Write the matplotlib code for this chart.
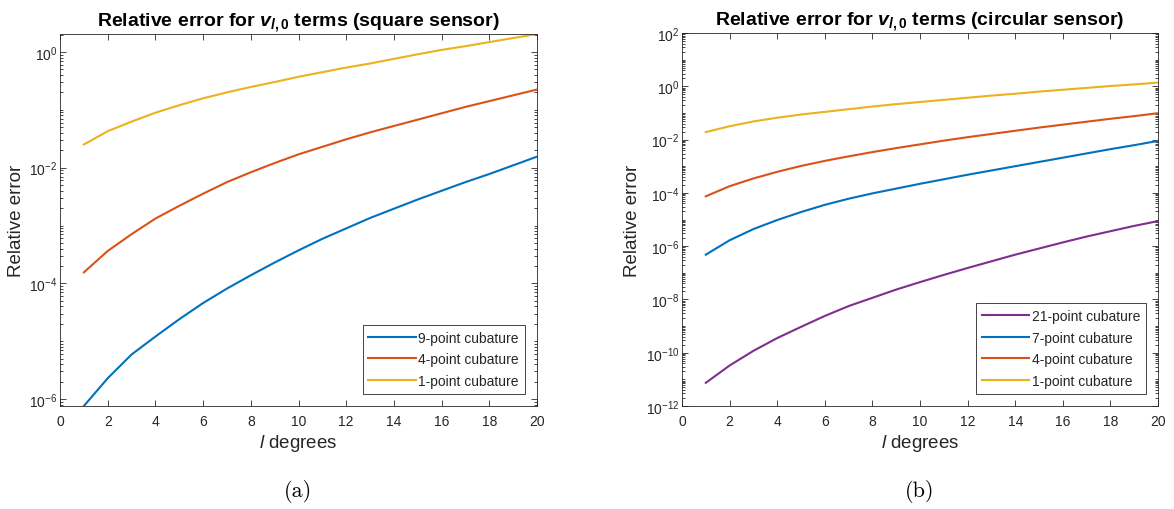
import numpy as np
import matplotlib
matplotlib.use("Agg")
import matplotlib.pyplot as plt
from matplotlib.ticker import LogLocator, FixedLocator, LogFormatterSciNotation, NullFormatter

plt.rcParams['font.family'] = ['Liberation Sans', 'DejaVu Sans']
plt.rcParams['mathtext.fontset'] = 'custom'
plt.rcParams['mathtext.it'] = 'Liberation Sans:italic:bold'
plt.rcParams['mathtext.rm'] = 'Liberation Sans:bold'
plt.rcParams['mathtext.sf'] = 'Liberation Sans:italic'
plt.rcParams['axes.unicode_minus'] = False

# ---------------- data ----------------
degrees = list(range(1, 21))

# (a) square sensor
sq_9pt = [7.59e-7, 2.29e-6, 5.89e-6, 1.202e-5, 2.399e-5, 4.571e-5, 8.128e-5, 1.380e-4,
          2.291e-4, 3.715e-4, 5.888e-4, 8.913e-4, 1.349e-3, 1.950e-3, 2.818e-3, 3.981e-3,
          5.623e-3, 7.762e-3, 1.096e-2, 1.549e-2]
sq_4pt = [1.549e-4, 3.63e-4, 7.08e-4, 1.318e-3, 2.188e-3, 3.548e-3, 5.623e-3, 8.318e-3,
          1.202e-2, 1.698e-2, 2.291e-2, 3.09e-2, 4.07e-2, 5.25e-2, 6.76e-2, 8.71e-2,
          0.1122, 0.1413, 0.1778, 0.2239]
sq_1pt = [0.0251, 0.0427, 0.0624, 0.0891, 0.120, 0.158, 0.200, 0.248, 0.302, 0.372,
          0.447, 0.537, 0.631, 0.759, 0.912, 1.084, 1.259, 1.479, 1.738, 2.042]
sq_labels = ['9-point cubature', '4-point cubature', '1-point cubature']

# (b) circular sensor
ci_21pt = [7.41e-12, 3.311e-11, 1.175e-10, 3.548e-10, 9.333e-10, 2.399e-9, 5.623e-9, 1.148e-8,
           2.344e-8, 4.467e-8, 8.318e-8, 1.514e-7, 2.692e-7, 4.786e-7, 8.128e-7, 1.380e-6,
           2.291e-6, 3.631e-6, 5.754e-6, 8.710e-6]
ci_7pt = [4.786e-7, 1.660e-6, 4.365e-6, 9.550e-6, 1.905e-5, 3.548e-5, 6.026e-5, 9.550e-5,
          1.445e-4, 2.188e-4, 3.236e-4, 4.786e-4, 6.918e-4, 1.0e-3, 1.445e-3, 2.089e-3,
          3.020e-3, 4.365e-3, 6.166e-3, 8.913e-3]
ci_4pt = [7.41e-5, 1.778e-4, 3.467e-4, 6.166e-4, 1.023e-3, 1.585e-3, 2.344e-3, 3.388e-3,
          4.786e-3, 6.607e-3, 9.120e-3, 1.230e-2, 1.622e-2, 2.138e-2, 2.818e-2, 3.631e-2,
          4.677e-2, 6.026e-2, 7.586e-2, 9.772e-2]
ci_1pt = [0.01905, 0.03162, 0.04786, 0.06607, 0.08710, 0.1096, 0.1380, 0.1738, 0.2138, 0.2570,
          0.3090, 0.3715, 0.4467, 0.5248, 0.6310, 0.7413, 0.8710, 1.0233, 1.1749, 1.3804]
ci_labels = ['21-point cubature', '7-point cubature', '4-point cubature', '1-point cubature']

x_ticks = list(range(0, 21, 2))

# ---------------- style ----------------
C_BLUE = '#0072BD'
C_ORANGE = '#D95319'
C_YELLOW = '#EDB120'
C_PURPLE = '#7E2F8E'
AX_COL = '#262626'

W, H = 1174, 510
fig = plt.figure(figsize=(W / 100, H / 100), dpi=100)

def px_axes(x0, x1, y0, y1):
    return fig.add_axes([x0 / W, 1 - y1 / H, (x1 - x0) / W, (y1 - y0) / H])

def style(ax, ymin, ymax, major_decades):
    ax.set_yscale('log')
    ax.set_xlim(0, 20)
    ax.set_ylim(ymin, ymax)
    ax.xaxis.set_major_locator(FixedLocator(x_ticks))
    ax.yaxis.set_major_locator(FixedLocator([10.0 ** d for d in major_decades]))
    ax.yaxis.set_major_formatter(LogFormatterSciNotation())
    ax.yaxis.set_minor_locator(LogLocator(base=10, subs=np.arange(1, 10), numticks=100))
    ax.yaxis.set_minor_formatter(NullFormatter())
    ax.tick_params(axis='both', which='both', direction='in', top=True, right=True,
                   colors=AX_COL, labelcolor=AX_COL, labelsize=10, width=0.6)
    ax.tick_params(axis='both', which='major', length=4)
    ax.tick_params(axis='y', which='minor', length=2)
    ax.tick_params(axis='x', which='major', pad=6)
    ax.tick_params(axis='y', which='major', pad=2)
    for s in ax.spines.values():
        s.set_color(AX_COL)
        s.set_linewidth(0.6)
    ax.set_xlabel(r'$\mathsf{l}$ degrees', fontsize=13.5, color=AX_COL, labelpad=3)
    ax.set_ylabel('Relative error', fontsize=13.5, color=AX_COL, labelpad=3)

LW = 1.5

# (a)
ax1 = px_axes(60, 537, 35, 407)
ax1.plot(degrees, sq_9pt, color=C_BLUE, lw=LW, label=sq_labels[0])
ax1.plot(degrees, sq_4pt, color=C_ORANGE, lw=LW, label=sq_labels[1])
ax1.plot(degrees, sq_1pt, color=C_YELLOW, lw=LW, label=sq_labels[2])
all_sq = sq_9pt + sq_4pt + sq_1pt
style(ax1, min(all_sq), max(all_sq), [0, -2, -4, -6])
ax1.set_title(r'Relative error for $\mathit{v}_{\mathit{l,0}}$ terms (square sensor)',
              fontsize=14, fontweight='bold', color='black', pad=6)

# (b)
ax2 = px_axes(682, 1158, 34, 407)
ax2.plot(degrees, ci_21pt, color=C_PURPLE, lw=LW, label=ci_labels[0])
ax2.plot(degrees, ci_7pt, color=C_BLUE, lw=LW, label=ci_labels[1])
ax2.plot(degrees, ci_4pt, color=C_ORANGE, lw=LW, label=ci_labels[2])
ax2.plot(degrees, ci_1pt, color=C_YELLOW, lw=LW, label=ci_labels[3])
style(ax2, 1e-12, 1e2, [2, 0, -2, -4, -6, -8, -10, -12])
ax2.set_title(r'Relative error for $\mathit{v}_{\mathit{l,0}}$ terms (circular sensor)',
              fontsize=14, fontweight='bold', color='black', pad=6)

for ax in (ax1, ax2):
    leg = ax.legend(loc='lower right', fontsize=10, frameon=True, fancybox=False,
                    framealpha=1, edgecolor=AX_COL, handlelength=3.4, handletextpad=0.2,
                    labelspacing=0.55, borderpad=0.4, borderaxespad=0.9)
    leg.get_frame().set_linewidth(0.6)
    for t in leg.get_texts():
        t.set_color(AX_COL)

fig.text(298 / W, 1 - 492 / H, '(a)', family='cmr10', fontsize=16, ha='center', va='center')
fig.text(920 / W, 1 - 492 / H, '(b)', family='cmr10', fontsize=16, ha='center', va='center')

fig.savefig('out.png', dpi=100, facecolor='white')
